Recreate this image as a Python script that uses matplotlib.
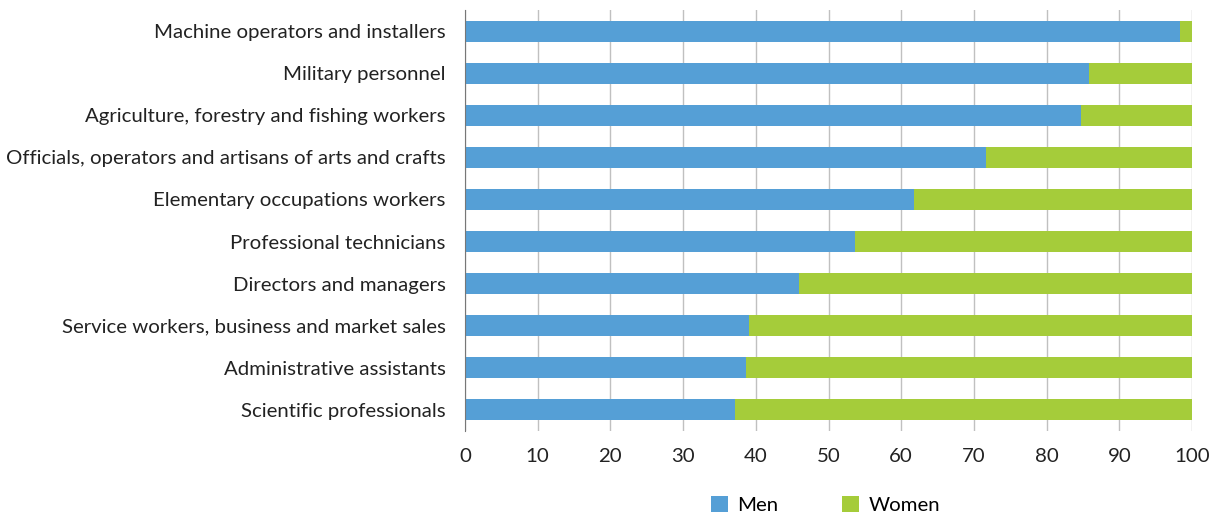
import matplotlib.pyplot as plt
import numpy as np

plt.rcParams['font.family'] = ['Lato', 'DejaVu Sans']

categories = [
    "Machine operators and installers",
    "Military personnel",
    "Agriculture, forestry and fishing workers",
    "Officials, operators and artisans of arts and crafts",
    "Elementary occupations workers",
    "Professional technicians",
    "Directors and managers",
    "Service workers, business and market sales",
    "Administrative assistants",
    "Scientific professionals",
]
men = [98.3, 85.8, 84.7, 71.6, 61.8, 53.6, 45.9, 39.0, 38.7, 37.1]
women = [100 - m for m in men]

fig = plt.figure(figsize=(12.1, 5.12), dpi=100)
ax = fig.add_axes([465 / 1210, 1 - 431 / 512, (1192 - 465) / 1210, 421 / 512])

y = np.arange(len(categories))
ax.barh(y, men, height=0.5, color="#559FD6", label="Men")
ax.barh(y, women, left=men, height=0.5, color="#A5CC3A", label="Women")

ax.set_ylim(len(categories) - 0.5, -0.5)
ax.set_xlim(0, 100)
ax.set_xticks(np.arange(0, 101, 10))
ax.set_yticks(y)
ax.set_yticklabels(categories, fontsize=14.7, color="#222222")
ax.tick_params(axis="y", length=0, pad=14)
ax.tick_params(axis="x", length=0, pad=12, labelsize=14.7, labelcolor="#222222")

ax.grid(axis="x", color="#c0c0c0", linewidth=1)
ax.set_axisbelow(True)
for s in ["top", "right", "bottom"]:
    ax.spines[s].set_visible(False)
ax.spines["left"].set_color("#777777")

fig.legend(loc="upper left", bbox_to_anchor=(711 / 1210, 1 - 496 / 512), ncol=2, frameon=False,
           fontsize=14.7, handlelength=0.85, handleheight=0.85, columnspacing=3.1,
           handletextpad=0.45, borderpad=0, borderaxespad=0)

fig.savefig("out.png", dpi=100)
